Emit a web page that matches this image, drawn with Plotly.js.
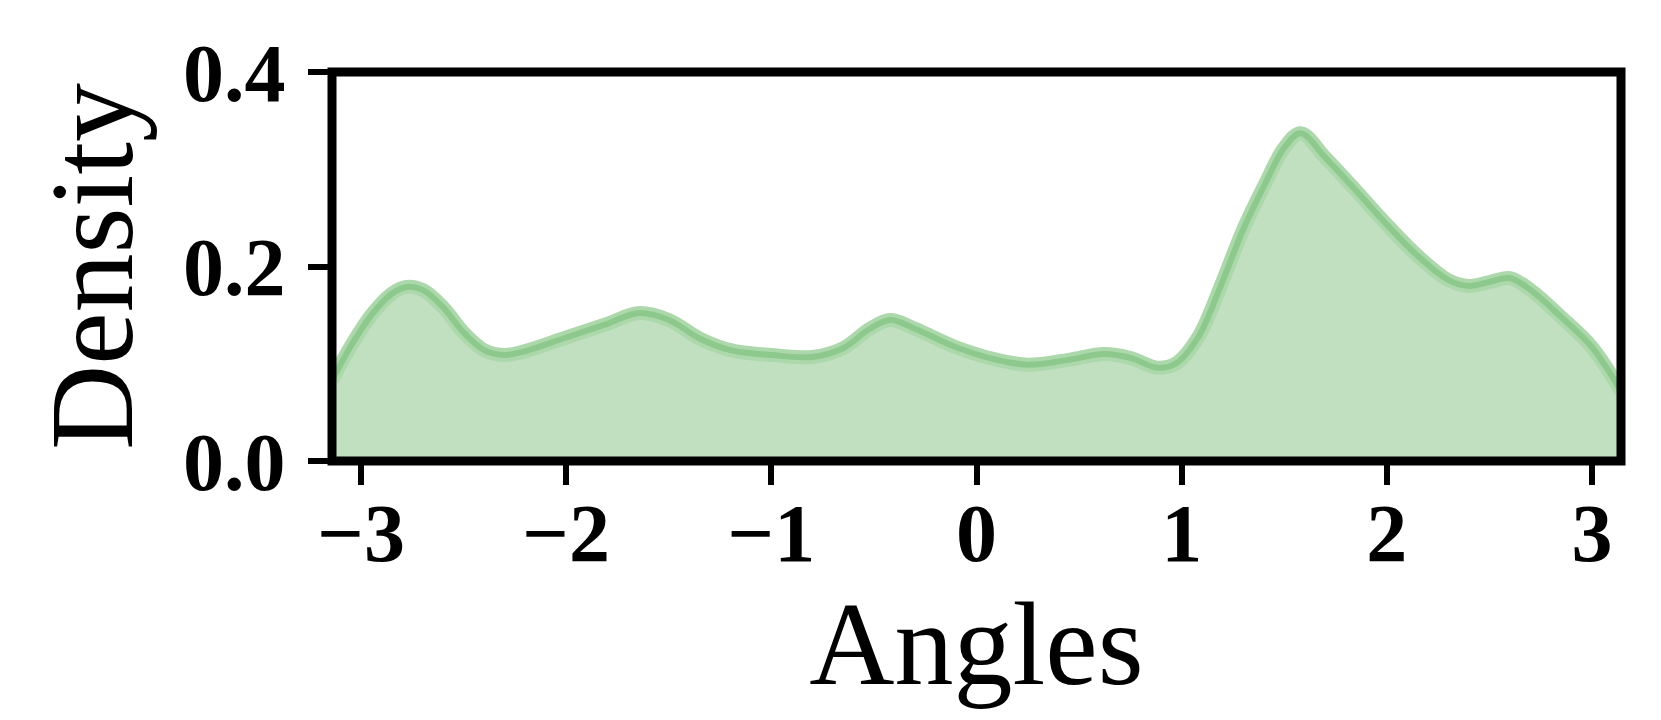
<!DOCTYPE html>
<html>
<head>
<meta charset="utf-8">
<script src="https://cdn.plot.ly/plotly-3.0.1.min.js"></script>
<style>
  html, body { margin: 0; padding: 0; background: #fff; }
  #chart { width: 1661px; height: 720px; }
</style>
</head>
<body>
<div id="chart"></div>
<script>
// KDE of angles
const angles = [
    -3.1416, -3.05, -2.95, -2.85, -2.78, -2.7, -2.6, -2.5, -2.4, -2.3,
    -2.2, -2.0, -1.8, -1.65, -1.5, -1.35, -1.2, -1.0, -0.8, -0.65,
    -0.52, -0.42, -0.3, -0.1, 0.1, 0.25, 0.45, 0.62, 0.75, 0.88,
    0.97, 1.08, 1.2, 1.3, 1.4, 1.5, 1.58, 1.7, 1.85, 2.0,
    2.15, 2.3, 2.4, 2.5, 2.6, 2.7, 2.85, 3.0, 3.1416
];
const density = [
    0.083, 0.118, 0.150, 0.172, 0.179, 0.176, 0.158, 0.132, 0.114, 0.109,
    0.113, 0.127, 0.141, 0.152, 0.145, 0.126, 0.114, 0.109, 0.107, 0.116,
    0.136, 0.145, 0.136, 0.117, 0.104, 0.099, 0.104, 0.110, 0.106, 0.096,
    0.100, 0.127, 0.185, 0.238, 0.282, 0.322, 0.337, 0.312, 0.278, 0.243,
    0.211, 0.186, 0.180, 0.184, 0.188, 0.176, 0.148, 0.117, 0.072
];
const xTicks = [-3, -2, -1, 0, 1, 2, 3];
const yTicks = [0, 0.2, 0.4];

const serif = "Liberation Serif, Times New Roman, serif";

const fillTrace = {
    x: angles,
    y: density,
    type: 'scatter',
    mode: 'lines',
    fill: 'tozeroy',
    fillcolor: 'rgb(192,224,192)',
    line: { shape: 'spline', smoothing: 1, width: 14, color: 'rgb(172,216,172)' },
    hoverinfo: 'skip'
};

const edgeTrace = {
    x: angles,
    y: density,
    type: 'scatter',
    mode: 'lines',
    line: { shape: 'spline', smoothing: 1, width: 6, color: 'rgb(141,201,141)' },
    hoverinfo: 'skip'
};

const tickFont = { family: serif, size: 82, color: '#000', weight: 'bold' };

const layout = {
    width: 1661,
    height: 720,
    margin: { l: 332, r: 40, t: 72, b: 259, pad: 0 },
    paper_bgcolor: '#fff',
    plot_bgcolor: '#fff',
    showlegend: false,
    xaxis: {
        range: [-Math.PI, Math.PI],
        tickvals: xTicks,
        ticks: 'outside',
        ticklen: 23,
        tickwidth: 6,
        tickcolor: '#000',
        tickfont: tickFont,
        ticklabelstandoff: -22,
        showgrid: false,
        zeroline: false,
        showline: false,
        title: { text: 'Angles', font: { family: serif, size: 118, color: '#000' }, standoff: 10 }
    },
    yaxis: {
        range: [0, 0.4],
        tickvals: yTicks,
        tickformat: '.1f',
        ticks: 'outside',
        ticklen: 23,
        tickwidth: 6,
        tickcolor: '#000',
        tickfont: tickFont,
        ticklabelstandoff: 6,
        showgrid: false,
        zeroline: false,
        showline: false,
        title: { text: 'Density', font: { family: serif, size: 118, color: '#000' }, standoff: 10 }
    },
    shapes: [{
        type: 'rect', xref: 'paper', yref: 'paper',
        x0: 0, x1: 1, y0: 0, y1: 1,
        line: { color: '#000', width: 9 },
        layer: 'above'
    }]
};

Plotly.newPlot('chart', [fillTrace, edgeTrace], layout, { staticPlot: true, displayModeBar: false });
</script>
</body>
</html>
